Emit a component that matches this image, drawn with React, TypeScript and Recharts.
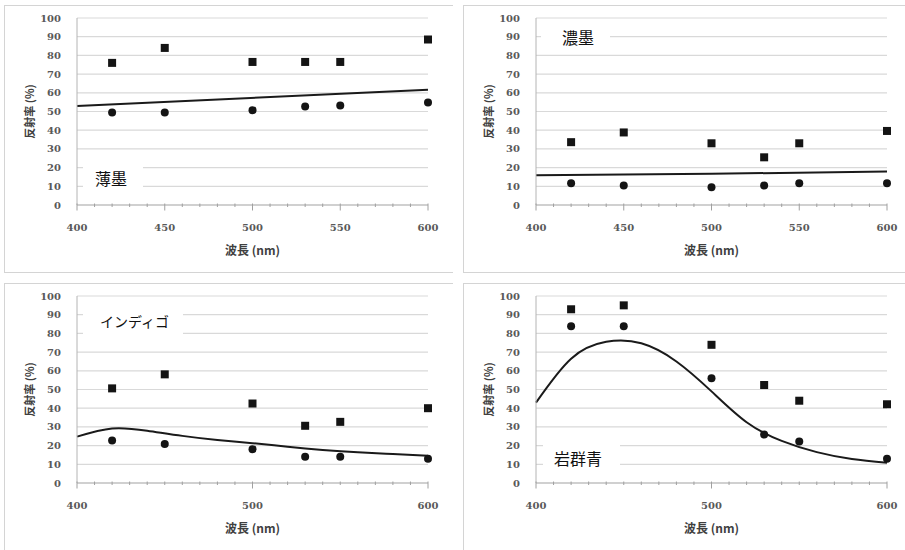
import React from "react";
import {
  ComposedChart,
  Line,
  Scatter,
  XAxis,
  YAxis,
  CartesianGrid,
} from "recharts";

// wavelengths of the measured points (nm)
const WAVELENGTH = [420, 450, 500, 530, 550, 600];

const X_TICKS = [
  400, 410, 420, 430, 440, 450, 460, 470, 480, 490, 500, 510, 520, 530, 540,
  550, 560, 570, 580, 590, 600,
];
const Y_TICKS = [0, 10, 20, 30, 40, 50, 60, 70, 80, 90, 100];

// 薄墨
const USUZUMI_SQUARE = [76, 84, 76.5, 76.5, 76.5, 88.5];
const USUZUMI_CIRCLE = [49.5, 49.5, 50.7, 52.7, 53.2, 54.8];
const USUZUMI_TREND_NM = [400, 600];
const USUZUMI_TREND = [53.0, 61.6];

// 濃墨
const KOZUMI_SQUARE = [33.6, 38.8, 33.0, 25.5, 33.0, 39.6];
const KOZUMI_CIRCLE = [11.6, 10.4, 9.5, 10.4, 11.6, 11.6];
const KOZUMI_TREND_NM = [400, 500, 600];
const KOZUMI_TREND = [15.9, 16.7, 17.9];

// インディゴ
const INDIGO_SQUARE = [50.6, 58.1, 42.5, 30.6, 32.7, 40.0];
const INDIGO_CIRCLE = [22.7, 20.8, 18.1, 14.0, 14.0, 13.0];
const INDIGO_TREND_NM = [400, 420, 440, 460, 480, 500, 520, 540, 560, 580, 600];
const INDIGO_TREND = [24.8, 29.2, 28.0, 25.2, 23.0, 21.3, 19.4, 17.7, 16.4, 15.5, 14.6];

// 岩群青
const IWAGUNJO_SQUARE = [92.9, 95.0, 73.9, 52.4, 44.0, 42.1];
const IWAGUNJO_CIRCLE = [83.8, 83.8, 56.0, 25.9, 22.2, 13.0];
const IWAGUNJO_TREND_NM = [400, 420, 440, 460, 480, 500, 520, 540, 560, 580, 600];
const IWAGUNJO_TREND = [43, 66.5, 75.5, 74.7, 65, 49, 32.5, 22.5, 16.5, 12.8, 10.8];

const pts = (xs: number[], ys: number[]) => xs.map((x, i) => ({ x, y: ys[i] }));

const TICK_FONT = "'DejaVu Serif', serif";
const CJK_FONT = "'Noto Sans CJK JP', 'Noto Sans', sans-serif";
const AXIS_GRAY = "#b4b4b4";

const SquareDot = (p: any) => (
  <rect x={p.cx - 4} y={p.cy - 4} width={8} height={8} fill="#141414" />
);
const CircleDot = (p: any) => <circle cx={p.cx} cy={p.cy} r={4} fill="#141414" />;

function XTick(props: any) {
  const { x, y, payload, major } = props;
  const v = payload.value;
  const isMajor = v % major === 0;
  return (
    <g>
      <line
        x1={x}
        x2={x}
        y1={y - 3.5}
        y2={isMajor ? y + 3.5 : y}
        stroke="#a0a0a0"
        strokeWidth={1}
      />
      {isMajor && (
        <text
          x={x}
          y={y + 24}
          textAnchor="middle"
          fontFamily={TICK_FONT}
          fontWeight="bold"
          fontSize={10}
          fill="#595959"
        >
          {v}
        </text>
      )}
    </g>
  );
}

const xTitle = (props: any) => {
  const vb = props.viewBox || {};
  const cx = vb.x + vb.width / 2;
  return (
    <text
      x={cx}
      y={vb.y + 50}
      textAnchor="middle"
      fontFamily={CJK_FONT}
      fontWeight="bold"
      fontSize={12}
      fill="#404040"
    >
      波長 (nm)
    </text>
  );
};

const yTitle = (props: any) => {
  const vb = props.viewBox || {};
  const cx = 25;
  const cy = vb.y + vb.height / 2;
  return (
    <text
      x={cx}
      y={cy}
      transform={`rotate(-90 ${cx} ${cy})`}
      textAnchor="middle"
      dominantBaseline="central"
      fontFamily={CJK_FONT}
      fontWeight="bold"
      fontSize={11}
      fill="#404040"
    >
      反射率 (%)
    </text>
  );
};

interface PanelProps {
  left: number;
  top: number;
  width: number;
  major: number;
  squares: number[];
  circles: number[];
  trendNm: number[];
  trend: number[];
  curve: "linear" | "natural";
  name: string;
  box: { x: number; y: number; w: number; h: number };
  text: { x: number; cy: number; size: number };
}

function Panel(p: PanelProps) {
  const height = 268;
  return (
    <>
      <div
        style={{
          position: "absolute",
          left: p.left,
          top: p.top,
          width: p.width,
          height: height,
          borderLeft: "1px solid #d4d4d4",
          borderTop: "1px solid #d4d4d4",
          borderBottom: "1px solid #d4d4d4",
          boxSizing: "border-box",
        }}
      />
      <div style={{ position: "absolute", left: p.left, top: p.top }}>
        <ComposedChart
          width={p.width}
          height={height}
          margin={{ top: 13, right: p.width - 424, left: 8, bottom: 8 }}
        >
          <CartesianGrid vertical={false} stroke="#d9d9d9" strokeWidth={1.2} />
          <XAxis
            type="number"
            dataKey="x"
            domain={[400, 600]}
            ticks={X_TICKS}
            interval={0}
            tickSize={0}
            tickLine={false}
            height={60}
            axisLine={{ stroke: AXIS_GRAY }}
            tick={(t: any) => <XTick {...t} major={p.major} />}
            label={xTitle}
          />
          <YAxis
            type="number"
            dataKey="y"
            domain={[0, 100]}
            ticks={Y_TICKS}
            interval={0}
            width={65}
            tickLine={false}
            tickMargin={10}
            axisLine={{ stroke: AXIS_GRAY }}
            tick={{
              fontFamily: TICK_FONT,
              fontWeight: "bold",
              fontSize: 10,
              fill: "#595959",
            }}
            label={yTitle}
          />
          <Line
            data={pts(p.trendNm, p.trend)}
            dataKey="y"
            type={p.curve}
            stroke="#1a1a1a"
            strokeWidth={2}
            dot={false}
            activeDot={false}
            isAnimationActive={false}
          />
          <Scatter
            data={pts(WAVELENGTH, p.squares)}
            dataKey="y"
            shape={SquareDot}
            isAnimationActive={false}
          />
          <Scatter
            data={pts(WAVELENGTH, p.circles)}
            dataKey="y"
            shape={CircleDot}
            isAnimationActive={false}
          />
        </ComposedChart>
      </div>
      <div
        style={{
          position: "absolute",
          left: p.box.x,
          top: p.box.y,
          width: p.box.w,
          height: p.box.h,
          background: "#fff",
        }}
      />
      <div
        style={{
          position: "absolute",
          left: p.text.x,
          top: p.text.cy - 12,
          height: 24,
          lineHeight: "24px",
          fontFamily: CJK_FONT,
          fontSize: p.text.size,
          color: "#111",
          whiteSpace: "nowrap",
        }}
      >
        {p.name}
      </div>
    </>
  );
}

export default function App() {
  return (
    <div
      style={{
        position: "absolute",
        left: 0,
        top: 0,
        width: 905,
        height: 550,
        background: "#fff",
        overflow: "hidden",
      }}
    >
      <Panel
        left={4}
        top={5}
        width={449}
        major={50}
        squares={USUZUMI_SQUARE}
        circles={USUZUMI_CIRCLE}
        trendNm={USUZUMI_TREND_NM}
        trend={USUZUMI_TREND}
        curve="linear"
        name="薄墨"
        box={{ x: 83, y: 162, w: 60, h: 32 }}
        text={{ x: 95, cy: 178, size: 16 }}
      />
      <Panel
        left={463}
        top={5}
        width={442}
        major={50}
        squares={KOZUMI_SQUARE}
        circles={KOZUMI_CIRCLE}
        trendNm={KOZUMI_TREND_NM}
        trend={KOZUMI_TREND}
        curve="linear"
        name="濃墨"
        box={{ x: 541, y: 27, w: 69, h: 20 }}
        text={{ x: 562, cy: 37, size: 16 }}
      />
      <Panel
        left={4}
        top={283}
        width={449}
        major={100}
        squares={INDIGO_SQUARE}
        circles={INDIGO_CIRCLE}
        trendNm={INDIGO_TREND_NM}
        trend={INDIGO_TREND}
        curve="natural"
        name="インディゴ"
        box={{ x: 83, y: 306, w: 100, h: 34 }}
        text={{ x: 100, cy: 321, size: 14 }}
      />
      <Panel
        left={463}
        top={283}
        width={442}
        major={100}
        squares={IWAGUNJO_SQUARE}
        circles={IWAGUNJO_CIRCLE}
        trendNm={IWAGUNJO_TREND_NM}
        trend={IWAGUNJO_TREND}
        curve="natural"
        name="岩群青"
        box={{ x: 543, y: 438, w: 77, h: 34 }}
        text={{ x: 554, cy: 458, size: 16 }}
      />
    </div>
  );
}
